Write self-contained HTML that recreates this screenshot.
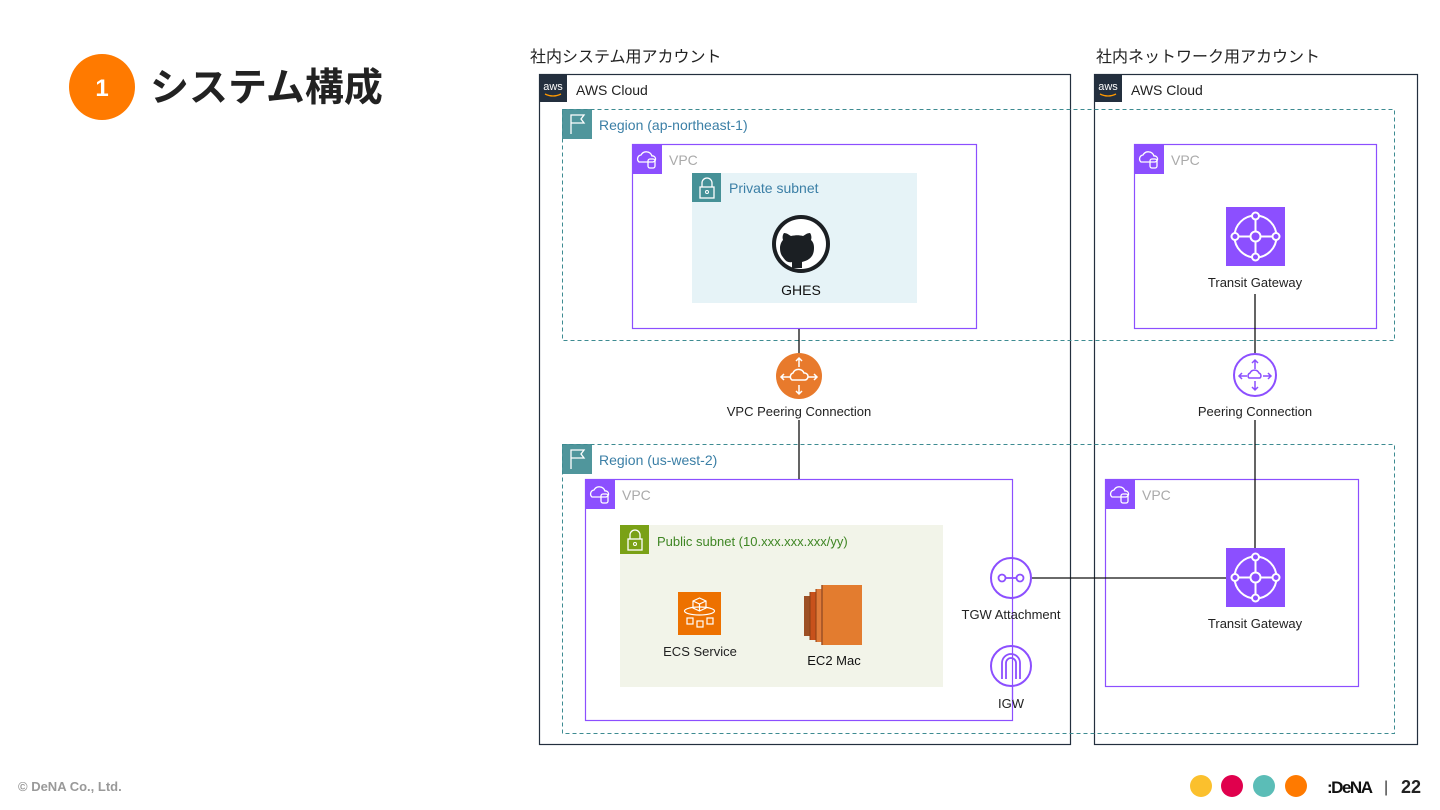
<!DOCTYPE html>
<html><head><meta charset="utf-8"><style>
html,body{margin:0;padding:0;background:#fff;}
svg{display:block}
text{font-family:"Liberation Sans","Noto Sans CJK JP",sans-serif;}
</style></head><body>
<svg width="1440" height="810" viewBox="0 0 1440 810" xmlns="http://www.w3.org/2000/svg">
<defs>
<g id="vpcicon"><rect width="30" height="30" fill="#8c4fff"/><path d="M7 18 a4 4 0 0 1 2-7 a6 6 0 0 1 11 1 a3 3 0 0 1 1 6z" fill="none" stroke="#fff" stroke-width="1.3"/><rect x="16" y="15" width="7" height="9" rx="2" fill="none" stroke="#fff" stroke-width="1.3"/></g>
<g id="lockicon"><path d="M10 14 v-4 a5 5 0 0 1 10 0 v4" fill="none" stroke="#fff" stroke-width="1.3"/><rect x="8" y="14" width="14" height="11" fill="none" stroke="#fff" stroke-width="1.3"/><circle cx="15" cy="19" r="1.5" fill="none" stroke="#fff"/></g>
<g id="flag"><rect width="30" height="30" fill="#3d8b91" opacity="0.9"/><path d="M9 25 V6 h13 l-3 4 l3 4 H9" fill="none" stroke="#fff" stroke-width="1.3"/></g>
<g id="tgw"><rect width="59" height="59" fill="#8c4fff"/><circle cx="29.5" cy="29.5" r="21" fill="none" stroke="#fff" stroke-width="2"/><circle cx="29.5" cy="29.5" r="5" fill="none" stroke="#fff" stroke-width="2"/><path d="M29.5 11v13M29.5 35v13M11 29.5h13M35 29.5h13" stroke="#fff" stroke-width="2"/><g fill="#8c4fff" stroke="#fff" stroke-width="2"><circle cx="29.5" cy="9" r="3.5"/><circle cx="29.5" cy="50" r="3.5"/><circle cx="9" cy="29.5" r="3.5"/><circle cx="50" cy="29.5" r="3.5"/></g></g>
</defs>
<!-- title -->
<circle cx="102" cy="87" r="33" fill="#ff7a00"/>
<text x="102" y="96" font-size="24" font-weight="bold" fill="#fff" text-anchor="middle">1</text>
<text x="150" y="101" font-size="39" font-weight="bold" fill="#222">システム構成</text>
<!-- account labels -->
<text x="530" y="62" font-size="16" fill="#222">社内システム用アカウント</text>
<text x="1096" y="62" font-size="16" fill="#222">社内ネットワーク用アカウント</text>
<!-- AWS clouds -->
<rect x="539.5" y="74.5" width="531" height="670" fill="none" stroke="#232f3e" stroke-width="1.2"/>
<rect x="539" y="74" width="28" height="28" fill="#232f3e"/>
<text x="553" y="90" font-size="11" fill="#fff" text-anchor="middle">aws</text>
<path d="M545 94 q8 4 16 0" stroke="#ff9900" fill="none" stroke-width="1.3"/>
<text x="576" y="95" font-size="14" fill="#222">AWS Cloud</text>
<rect x="1094.5" y="74.5" width="323" height="670" fill="none" stroke="#232f3e" stroke-width="1.2"/>
<rect x="1094" y="74" width="28" height="28" fill="#232f3e"/>
<text x="1108" y="90" font-size="11" fill="#fff" text-anchor="middle">aws</text>
<path d="M1100 94 q8 4 16 0" stroke="#ff9900" fill="none" stroke-width="1.3"/>
<text x="1131" y="95" font-size="14" fill="#222">AWS Cloud</text>
<!-- regions -->
<rect x="562.5" y="109.5" width="832" height="231" fill="none" stroke="#3d8b91" stroke-dasharray="4 3"/>
<use href="#flag" x="562" y="109"/>
<text x="599" y="130" font-size="14" fill="#3b7fa6">Region (ap-northeast-1)</text>
<rect x="562.5" y="444.5" width="832" height="289" fill="none" stroke="#3d8b91" stroke-dasharray="4 3"/>
<use href="#flag" x="562" y="444"/>
<text x="599" y="465" font-size="14" fill="#3b7fa6">Region (us-west-2)</text>
<!-- VPCs -->
<rect x="632.5" y="144.5" width="344" height="184" fill="#fff" stroke="#8c4fff" stroke-width="1.2"/>
<use href="#vpcicon" x="632" y="144"/>
<text x="669" y="165" font-size="14" fill="#aaa">VPC</text>
<rect x="692" y="173" width="225" height="130" fill="#e6f3f7"/>
<rect x="692" y="173" width="29" height="29" fill="#3d8b91" opacity="0.95"/>
<use href="#lockicon" x="692" y="173"/>
<text x="729" y="193" font-size="14" fill="#3b7fa6">Private subnet</text>
<circle cx="801" cy="244" r="29" fill="#1b1f23"/>
<circle cx="801" cy="244" r="25" fill="#fff"/>
<path d="M792 268 v-6 c-8 -2 -12 -6 -12 -14 c0-4 2-7 3-8 c-1-3 0-6 1-7 c3 0 5 2 7 3 c5-1 8-1 12 0 c2-1 4-3 7-3 c1 1 2 4 1 7 c2 2 3 4 3 8 c0 8-4 12-12 14 v6z" fill="#1b1f23"/>
<path d="M792 261 c-4 1-6-1-8-4" stroke="#1b1f23" stroke-width="2" fill="none"/>
<text x="801" y="295" font-size="14" fill="#111" text-anchor="middle">GHES</text>

<rect x="1134.5" y="144.5" width="242" height="184" fill="#fff" stroke="#8c4fff" stroke-width="1.2"/>
<use href="#vpcicon" x="1134" y="144"/>
<text x="1171" y="165" font-size="14" fill="#aaa">VPC</text>
<use href="#tgw" x="1226" y="207"/>
<text x="1255" y="287" font-size="13" fill="#222" text-anchor="middle">Transit Gateway</text>

<rect x="585.5" y="479.5" width="427" height="241" fill="#fff" stroke="#8c4fff" stroke-width="1.2"/>
<use href="#vpcicon" x="585" y="479"/>
<text x="622" y="500" font-size="14" fill="#aaa">VPC</text>
<rect x="620" y="525" width="323" height="162" fill="#f2f4e9"/>
<rect x="620" y="525" width="29" height="29" fill="#7aa116"/>
<use href="#lockicon" x="620" y="525"/>
<text x="657" y="546" font-size="13" fill="#3f8624">Public subnet (10.xxx.xxx.xxx/yy)</text>
<rect x="678" y="592" width="43" height="43" fill="#ed7100"/>
<path d="M693 601 l6.5-3 l6.5 3 v7 l-6.5 3 l-6.5-3z M693 601 l6.5 3 l6.5-3 M699.5 604 v7" stroke="#fff" fill="none" stroke-width="1.2"/>
<ellipse cx="699.5" cy="611" rx="15" ry="4" stroke="#fff" fill="none" stroke-width="1.2"/>
<g fill="none" stroke="#fff" stroke-width="1.2"><rect x="687" y="618" width="6" height="6"/><rect x="697" y="621" width="6" height="6"/><rect x="707" y="618" width="6" height="6"/></g>
<text x="700" y="656" font-size="13" fill="#222" text-anchor="middle">ECS Service</text>
<g>
<rect x="804" y="596" width="6" height="40" fill="#9d5025"/>
<rect x="810" y="592" width="6" height="48" fill="#c8511b"/>
<rect x="816" y="589" width="6" height="53" fill="#e07b39"/>
<rect x="822" y="585" width="40" height="60" fill="#e37c2f"/>
<path d="M822 585 v60" stroke="#9d5025" stroke-width="1.5"/><path d="M816 589 v53 M810 592 v48" stroke="#8a3f15"/>
</g>
<text x="834" y="665" font-size="13" fill="#111" text-anchor="middle">EC2 Mac</text>

<rect x="1105.5" y="479.5" width="253" height="207" fill="#fff" stroke="#8c4fff" stroke-width="1.2"/>
<use href="#vpcicon" x="1105" y="479"/>
<text x="1142" y="500" font-size="14" fill="#aaa">VPC</text>

<!-- connectors -->
<g stroke="#111" stroke-width="1.3">
<line x1="799" y1="329" x2="799" y2="353"/>
<line x1="799" y1="420" x2="799" y2="479"/>
<line x1="1255" y1="294" x2="1255" y2="353"/>
<line x1="1255" y1="420" x2="1255" y2="548"/>
<line x1="1032" y1="578" x2="1226" y2="578"/>
</g>
<use href="#tgw" x="1226" y="548"/>
<text x="1255" y="628" font-size="13" fill="#222" text-anchor="middle">Transit Gateway</text>

<!-- VPC peering -->
<circle cx="799" cy="376" r="23" fill="#e87a2c"/>
<g stroke="#fff" stroke-width="1.5" fill="none">
<path d="M792 380 a4 4 0 0 1 1-7 a6 6 0 0 1 11 0 a3.5 3.5 0 0 1 1 7z"/>
<path d="M799 367 v-9 M796 361 l3-3 3 3 M799 385 v9 M796 391 l3 3 3-3 M790 377 h-9 M784 374 l-3 3 3 3 M808 377 h9 M814 374 l3 3-3 3"/>
</g>
<text x="799" y="416" font-size="13" fill="#222" text-anchor="middle">VPC Peering Connection</text>
<!-- right peering -->
<circle cx="1255" cy="375" r="21" fill="#fff" stroke="#8c4fff" stroke-width="2"/>
<g stroke="#8c4fff" stroke-width="1.5" fill="none">
<path d="M1249 378 a3 3 0 0 1 1-5 a5 5 0 0 1 9 0 a3 3 0 0 1 1 5z"/>
<path d="M1255 369 v-9 M1252 363 l3-3 3 3 M1255 381 v9 M1252 387 l3 3 3-3 M1247 376 h-8 M1242 373 l-3 3 3 3 M1263 376 h8 M1268 373 l3 3-3 3"/>
</g>
<text x="1255" y="416" font-size="13" fill="#222" text-anchor="middle">Peering Connection</text>
<!-- TGW attachment -->
<circle cx="1011" cy="578" r="20" fill="#fff" stroke="#8c4fff" stroke-width="2"/>
<g stroke="#8c4fff" stroke-width="1.8" fill="none"><circle cx="1002" cy="578" r="3.5"/><circle cx="1020" cy="578" r="3.5"/><path d="M1005.5 578 h11"/></g>
<text x="1011" y="619" font-size="13" fill="#222" text-anchor="middle">TGW Attachment</text>
<!-- IGW -->
<circle cx="1011" cy="666" r="20" fill="#fff" stroke="#8c4fff" stroke-width="2"/>
<path d="M1002 679 v-16 a9 9 0 0 1 18 0 v16 M1006 679 v-16 a5 5 0 0 1 10 0 v16" stroke="#8c4fff" stroke-width="1.8" fill="none"/>
<text x="1011" y="708" font-size="13" fill="#222" text-anchor="middle">IGW</text>
<line x1="1012.5" y1="555" x2="1012.5" y2="600" stroke="#8c4fff" stroke-width="1.2"/>
<line x1="1012.5" y1="645" x2="1012.5" y2="700" stroke="#8c4fff" stroke-width="1.2"/>

<!-- footer -->
<text x="18" y="791" font-size="13" font-weight="bold" fill="#999">© DeNA Co., Ltd.</text>
<circle cx="1201" cy="786" r="11" fill="#fbc02d"/>
<circle cx="1232" cy="786" r="11" fill="#e0004d"/>
<circle cx="1264" cy="786" r="11" fill="#5bbdb7"/>
<circle cx="1296" cy="786" r="11" fill="#ff7a00"/>
<text x="1327" y="793" font-size="17" font-weight="bold" fill="#111" textLength="46">:DeNA</text>
<text x="1384" y="792" font-size="16" fill="#333">|</text>
<text x="1401" y="793" font-size="18" font-weight="bold" fill="#222">22</text>
</svg>
</body></html>
